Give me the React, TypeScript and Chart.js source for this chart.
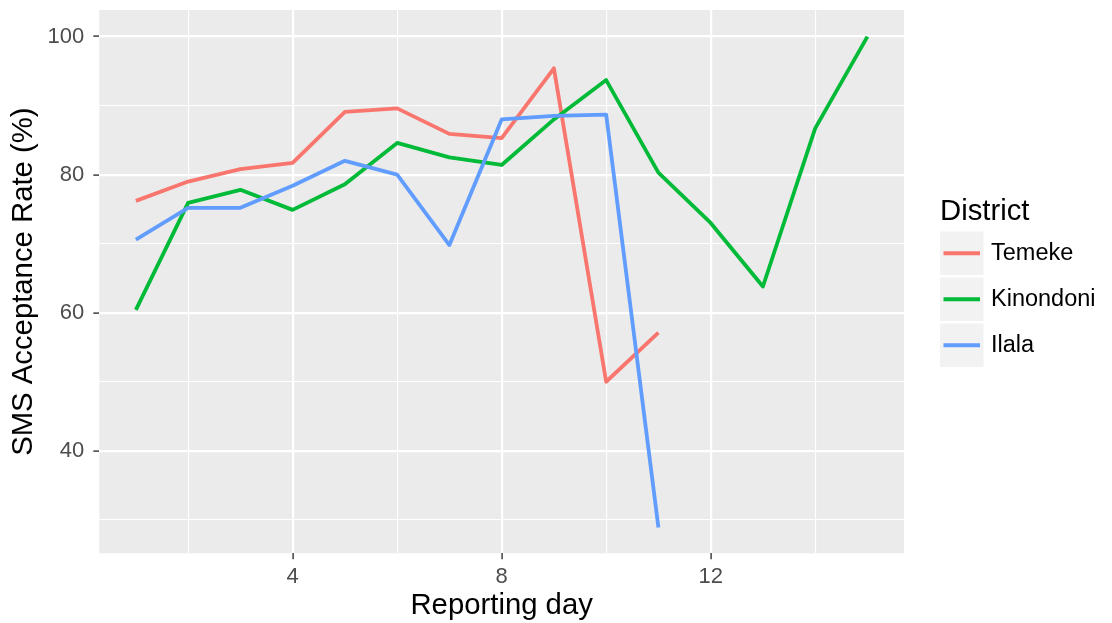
import { useEffect, useRef } from 'react';
import { Chart, registerables } from 'chart.js';

Chart.register(...registerables);

// ---- data ----
const days = [1, 2, 3, 4, 5, 6, 7, 8, 9, 10, 11, 12, 13, 14, 15];
const districts = ['Temeke', 'Kinondoni', 'Ilala'];
const districtColors = ['#F8766D', '#00BA38', '#619CFF'];
const temeke = [76.2, 79.0, 80.8, 81.7, 89.1, 89.6, 85.9, 85.3, 95.4, 50.0, 57.1];
const kinondoni = [60.4, 75.9, 77.8, 74.9, 78.6, 84.6, 82.5, 81.4, 88.0, 93.7, 80.3, 73.0, 63.8, 86.7, 100.0];
const ilala = [70.6, 75.2, 75.2, 78.4, 82.0, 80.0, 69.8, 88.0, 88.5, 88.7, 28.9];
const xGridTicks = [2, 4, 6, 8, 10, 12, 14];
const xLabelTicks = [4, 8, 12];
const yGridTicks = [30, 40, 50, 60, 70, 80, 90, 100];
const yLabelTicks = [40, 60, 80, 100];
const xTitle = 'Reporting day';
const yTitle = 'SMS Acceptance Rate (%)';
const legendTitle = 'District';

const FONT = "'Liberation Sans', Arial, sans-serif";
const TITLE_SIZE = 29.3;

const seriesValues = [temeke, kinondoni, ilala];

const panelPlugin = {
  id: 'panelBg',
  beforeDraw(chart: any) {
    const { ctx, chartArea } = chart;
    ctx.save();
    ctx.fillStyle = '#FFFFFF';
    ctx.fillRect(0, 0, chart.width, chart.height);
    ctx.fillStyle = '#EBEBEB';
    ctx.fillRect(chartArea.left, chartArea.top, chartArea.right - chartArea.left, chartArea.bottom - chartArea.top);
    ctx.restore();
  },
};

const legendPlugin = {
  id: 'ggLegend',
  afterDraw(chart: any) {
    const { ctx } = chart;
    ctx.save();
    ctx.fillStyle = '#000000';
    ctx.font = `${TITLE_SIZE}px ${FONT}`;
    ctx.textBaseline = 'alphabetic';
    ctx.textAlign = 'left';
    ctx.fillText(legendTitle, 940, 220);
    const keyX = 940;
    const keyW = 43.5;
    const pitch = 46;
    const top0 = 231.5;
    districts.forEach((name, i) => {
      const y0 = top0 + i * pitch;
      ctx.fillStyle = '#F2F2F2';
      ctx.fillRect(keyX, y0, keyW, keyW);
      ctx.strokeStyle = districtColors[i];
      ctx.lineWidth = 3.8;
      ctx.lineCap = 'butt';
      ctx.beginPath();
      ctx.moveTo(keyX + 3.5, y0 + keyW / 2);
      ctx.lineTo(keyX + keyW - 3.5, y0 + keyW / 2);
      ctx.stroke();
      ctx.fillStyle = '#000000';
      ctx.font = `23.5px ${FONT}`;
      ctx.textBaseline = 'middle';
      ctx.fillText(name, 991, y0 + keyW / 2 + 0.5);
    });
    ctx.restore();
  },
};

export default function App() {
  const canvasRef = useRef<HTMLCanvasElement | null>(null);

  useEffect(() => {
    document.body.style.margin = '0';
    const canvas = canvasRef.current;
    if (!canvas) return;
    Chart.defaults.font.family = FONT;

    const datasets = seriesValues.map((vals, i) => ({
      label: districts[i],
      data: vals.map((v, j) => ({ x: days[j], y: v })),
      borderColor: districtColors[i],
      backgroundColor: districtColors[i],
      borderWidth: 3.8,
      borderJoinStyle: 'round' as const,
      borderCapStyle: 'butt' as const,
      pointRadius: 0,
      pointHoverRadius: 0,
      tension: 0,
      fill: false,
      order: 2 - i,
    }));

    const chart = new Chart(canvas, {
      type: 'line',
      data: { datasets },
      plugins: [panelPlugin, legendPlugin],
      options: {
        responsive: false,
        animation: false,
        devicePixelRatio: 1,
        layout: { padding: { left: 0, right: 208, top: 10, bottom: 0 } },
        plugins: {
          legend: { display: false },
          tooltip: { enabled: false },
        },
        scales: {
          x: {
            type: 'linear',
            min: 0.3,
            max: 15.7,
            afterBuildTicks: (scale: any) => {
              scale.ticks = xGridTicks.map((v) => ({ value: v }));
            },
            afterFit: (scale: any) => {
              scale.height = 69.7;
              scale.paddingLeft = 0;
              scale.paddingRight = 0;
            },
            border: { display: false },
            grid: {
              color: '#FFFFFF',
              lineWidth: (ctx: any) => (ctx.tick && xLabelTicks.includes(ctx.tick.value) ? 2.2 : 1.1),
              tickColor: (ctx: any) => (ctx.tick && xLabelTicks.includes(ctx.tick.value) ? '#333333' : 'rgba(0,0,0,0)'),
              tickWidth: 1.4,
              tickLength: 6,
              drawTicks: true,
            },
            ticks: {
              autoSkip: false,
              maxRotation: 0,
              padding: 4,
              color: '#4D4D4D',
              font: { size: 22, family: FONT },
              callback: (v: any) => (xLabelTicks.includes(Number(v)) ? String(v) : ''),
            },
            title: {
              display: true,
              text: xTitle,
              color: '#000000',
              font: { size: TITLE_SIZE, family: FONT },
              padding: { top: 0, bottom: 0 },
            },
          },
          y: {
            type: 'linear',
            min: 25.15,
            max: 103.85,
            afterBuildTicks: (scale: any) => {
              scale.ticks = yGridTicks.map((v) => ({ value: v }));
            },
            afterFit: (scale: any) => {
              scale.width = 99.3;
              scale.paddingTop = 0;
              scale.paddingBottom = 0;
            },
            border: { display: false },
            grid: {
              color: '#FFFFFF',
              lineWidth: (ctx: any) => (ctx.tick && yLabelTicks.includes(ctx.tick.value) ? 2.2 : 1.1),
              tickColor: (ctx: any) => (ctx.tick && yLabelTicks.includes(ctx.tick.value) ? '#333333' : 'rgba(0,0,0,0)'),
              tickWidth: 1.4,
              tickLength: 6,
              drawTicks: true,
            },
            ticks: {
              autoSkip: false,
              padding: 9,
              color: '#4D4D4D',
              font: { size: 22, family: FONT },
              callback: (v: any) => (yLabelTicks.includes(Number(v)) ? String(v) : ''),
            },
            title: {
              display: true,
              text: yTitle,
              color: '#000000',
              font: { size: TITLE_SIZE, family: FONT },
              padding: { top: 6.4, bottom: 0 },
            },
          },
        },
      },
    });

    return () => {
      chart.destroy();
    };
  }, []);

  return (
    <div style={{ position: 'absolute', left: 0, top: 0, width: 1112, height: 623, background: '#FFFFFF' }}>
      <canvas ref={canvasRef} width={1112} height={623} style={{ display: 'block', width: 1112, height: 623 }} />
    </div>
  );
}
